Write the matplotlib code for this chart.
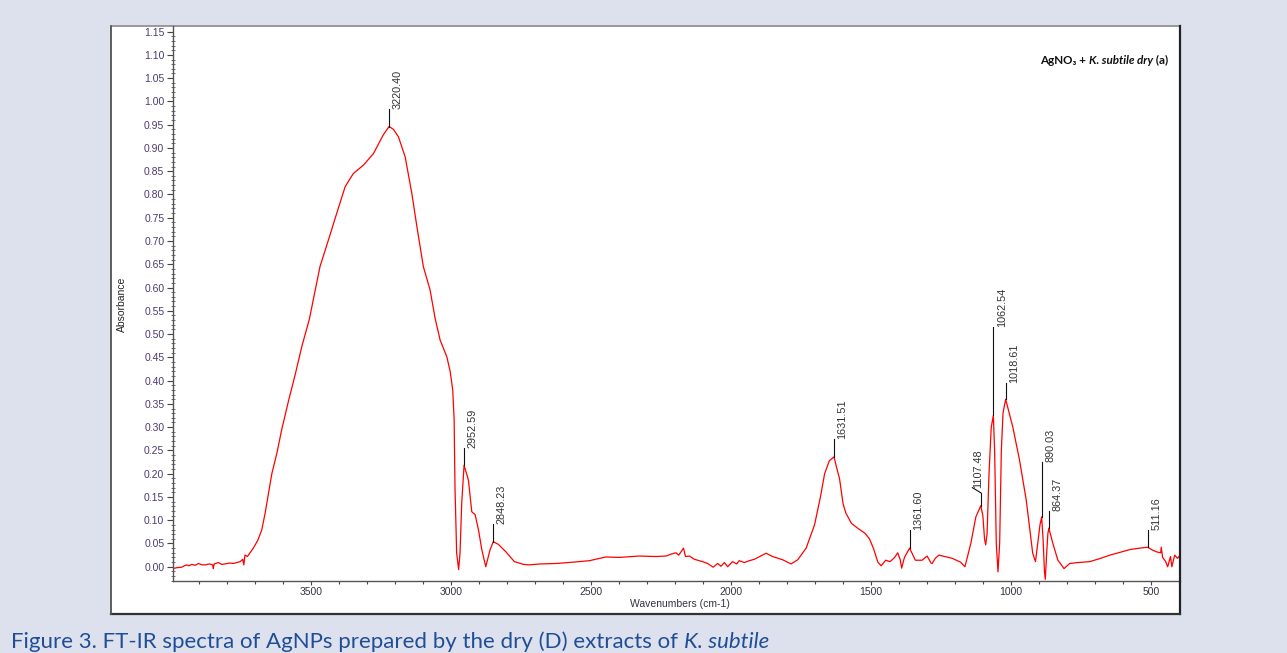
import numpy as np
import matplotlib
matplotlib.use("Agg")
import matplotlib.pyplot as plt
from matplotlib.patches import Rectangle
from matplotlib.lines import Line2D
from matplotlib.offsetbox import TextArea, HPacker, AnchoredOffsetbox

# ---------------- data ----------------
wavenumber = [
    3993, 3978, 3961, 3952, 3943, 3935, 3925, 3913, 3901, 3889, 3877, 3862, 3850, 3848,
    3845, 3830, 3818, 3806, 3790, 3776, 3764, 3752, 3743, 3739, 3735, 3726, 3717, 3705,
    3689, 3675, 3663, 3651, 3639,
    3621, 3604, 3580, 3556, 3532, 3505, 3467, 3437, 3407, 3377, 3348, 3312, 3276, 3241,
    3220.4, 3205, 3187, 3163, 3139, 3121, 3098, 3074, 3056, 3038, 3014, 3002, 2993, 2988,
    2985, 2979, 2972, 2967, 2961, 2955, 2952.59, 2946, 2937, 2925, 2913, 2901, 2889, 2875,
    2860, 2848.23, 2830, 2803, 2773, 2740, 2720, 2680, 2624, 2560, 2505, 2446, 2400, 2327,
    2267, 2231, 2214, 2196, 2186, 2178, 2169, 2162, 2148, 2130, 2101, 2083, 2063, 2047,
    2035, 2023, 2011, 1994, 1979, 1970, 1952, 1934, 1916, 1874, 1851, 1815, 1785, 1761,
    1731, 1701,
    1680, 1665, 1648, 1631.51, 1623, 1612, 1599, 1589, 1569, 1545, 1521, 1505, 1491, 1475,
    1463, 1447, 1431, 1415, 1404, 1395, 1390, 1380, 1361.6, 1341, 1317, 1299, 1285, 1281,
    1270, 1257, 1209, 1180, 1164, 1143, 1125, 1107.48, 1100, 1094, 1090, 1085, 1078, 1070,
    1062.54, 1058, 1052, 1046, 1040, 1034, 1028, 1018.61, 1010, 993, 969, 945, 922, 912,
    904, 896, 890.03, 885, 880, 877, 872, 868, 864.37, 850, 832, 810, 790, 760, 718, 680,
    646, 610, 574, 540, 511.16, 495, 480, 465, 463, 458, 448, 440, 430, 425, 415, 405, 397,
]
absorbance = [
    -0.004, -0.002, -0.001, 0.002, 0.004, 0.002, 0.005, 0.003, 0.007, 0.004, 0.004, 0.006, 0.004, -0.004,
    0.006, 0.009, 0.005, 0.006, 0.008, 0.007, 0.009, 0.011, 0.016, 0.004, 0.025, 0.022, 0.030, 0.040,
    0.057, 0.079, 0.115, 0.158, 0.200,
    0.244, 0.294, 0.355, 0.412, 0.473, 0.532, 0.645, 0.702, 0.760, 0.817, 0.845, 0.863, 0.888, 0.928,
    0.946, 0.940, 0.924, 0.881, 0.802, 0.731, 0.645, 0.595, 0.534, 0.487, 0.451, 0.419, 0.380, 0.315,
    0.172, 0.029, -0.006, 0.029, 0.136, 0.193, 0.218, 0.205, 0.186, 0.118, 0.112, 0.079, 0.036, 0.000,
    0.036, 0.054, 0.048, 0.032, 0.011, 0.005, 0.004, 0.006, 0.007, 0.010, 0.013, 0.021, 0.020, 0.023,
    0.022, 0.023, 0.027, 0.030, 0.025, 0.032, 0.040, 0.022, 0.023, 0.016, 0.011, 0.007, -0.001, 0.007,
    0.001, 0.009, 0.000, 0.011, 0.006, 0.013, 0.009, 0.013, 0.016, 0.029, 0.022, 0.015, 0.006, 0.015,
    0.040, 0.090,
    0.150, 0.200, 0.228, 0.236, 0.215, 0.190, 0.135, 0.115, 0.093, 0.082, 0.072, 0.060, 0.040, 0.010,
    0.002, 0.014, 0.011, 0.020, 0.030, 0.015, -0.003, 0.020, 0.040, 0.014, 0.014, 0.023, 0.008, 0.007,
    0.018, 0.025, 0.018, 0.010, 0.000, 0.050, 0.107, 0.131, 0.110, 0.060, 0.047, 0.070, 0.200, 0.300,
    0.325, 0.250, 0.050, -0.011, 0.050, 0.250, 0.330, 0.360, 0.340, 0.300, 0.229, 0.143, 0.029, 0.011,
    0.050, 0.090, 0.107, 0.060, -0.010, -0.027, 0.030, 0.070, 0.083, 0.050, 0.014, -0.004, 0.007, 0.009, 0.011, 0.018,
    0.025, 0.031, 0.037, 0.040, 0.042, 0.036, 0.032, 0.030, 0.042, 0.020, 0.012, 0.000, 0.022, 0.000, 0.025, 0.018, 0.024,
]

peak_positions = [3220.40, 2952.59, 2848.23, 1631.51, 1361.60, 1107.48, 1062.54, 1018.61, 890.03, 864.37, 511.16]
peak_labels = ["3220.40", "2952.59", "2848.23", "1631.51", "1361.60", "1107.48",
               "1062.54", "1018.61", "890.03", "864.37", "511.16"]
label_tops = [0.983, 0.255, 0.092, 0.274, 0.079, 0.159, 0.516, 0.395, 0.226, 0.120, 0.079]

y_ticks = [round(0.05 * i, 2) for i in range(24)]
x_ticks = [3500, 3000, 2500, 2000, 1500, 1000, 500]

# ---------------- figure ----------------
W, H = 1287, 653
fig = plt.figure(figsize=(W / 100, H / 100), dpi=100)
fig.patch.set_facecolor("#dde1ee")

def fx(px):
    return px / W

def fy(py):
    return 1 - py / H

# white panel
panel = Rectangle((fx(111), fy(614)), fx(1180) - fx(111), fy(26) - fy(614),
                  transform=fig.transFigure, facecolor="white", edgecolor="#8a8a8a",
                  lw=1.2, zorder=0)
fig.add_artist(panel)
fig.add_artist(Line2D([fx(1180), fx(1180)], [fy(614), fy(26)], transform=fig.transFigure,
                      color="#222222", lw=1.6))
fig.add_artist(Line2D([fx(111), fx(1180)], [fy(614), fy(614)], transform=fig.transFigure,
                      color="#333333", lw=1.6))
fig.add_artist(Line2D([fx(111), fx(111)], [fy(614), fy(26)], transform=fig.transFigure,
                      color="#555555", lw=1.2))

ax = fig.add_axes([fx(172.7), fy(580.7), fx(1180) - fx(172.7), fy(26) - fy(580.7)])
ax.set_facecolor("none")
ax.set_xlim(3993, 396)
ax.set_ylim(-0.03, 1.162)

ax.plot(wavenumber, absorbance, color="#ff0000", lw=0.9)

tick_font = {"family": "Liberation Sans", "size": 7.5}
ax.set_yticks(y_ticks)
ax.set_yticklabels([f"{v:.2f}" for v in y_ticks], fontdict=tick_font, color="#4b3b6e")
ax.set_xticks(x_ticks)
ax.set_xticklabels([str(v) for v in x_ticks], fontdict=tick_font, color="#333344")
ax.set_yticks(np.arange(-0.03, 1.16, 0.01), minor=True)
ax.set_xticks(np.arange(3900, 395, -100), minor=True)
ax.tick_params(axis="y", which="major", direction="out", length=4, width=0.8, color="#444444", pad=2)
ax.tick_params(axis="y", which="minor", direction="inout", length=3, width=0.6, color="#555555")
ax.tick_params(axis="x", which="major", direction="out", length=3, width=0.8, color="#444444", pad=1.5)
ax.tick_params(axis="x", which="minor", direction="out", length=2.5, width=0.8, color="#444444")
for s in ("top", "right"):
    ax.spines[s].set_visible(False)
for s in ("left", "bottom"):
    ax.spines[s].set_color("#555555")
    ax.spines[s].set_linewidth(1.0)

fig.text(fx(121.7), fy(304), "Absorbance", rotation=90, ha="center", va="center",
         family="Liberation Sans", fontsize=7.5, color="#222222")
fig.text(fx(680), fy(604), "Wavenumbers (cm-1)", ha="center", va="center",
         family="Liberation Sans", fontsize=7.5, color="#333344")

# peak annotations
wn_asc = np.array(wavenumber[::-1])
ab_asc = np.array(absorbance[::-1])
for pos, lab, top in zip(peak_positions, peak_labels, label_tops):
    peak_h = float(np.interp(pos, wn_asc, ab_asc))
    ax.plot([pos, pos], [peak_h, top], color="#111111", lw=0.8)
    if lab == "1107.48":
        end_x, end_y = pos + 30, top + 0.011
        ax.plot([pos, end_x], [top, end_y], color="#111111", lw=0.8)
        ax.annotate(lab, xy=(end_x, end_y), xytext=(0.5, 0), textcoords="offset points",
                    rotation=90, ha="left", va="bottom", family="Liberation Sans",
                    fontsize=7.8, color="#333333")
    else:
        ax.annotate(lab, xy=(pos, top), xytext=(2.5, 0), textcoords="offset points",
                    rotation=90, ha="left", va="bottom", family="Liberation Sans",
                    fontsize=7.8, color="#333333")

# sample title (top right)
ff = ["Lato", "DejaVu Sans"]
tsize = 8.4
t1 = TextArea("AgNO\u2083 + ", textprops=dict(family=ff, weight="bold", size=tsize, color="#111111"))
t2 = TextArea("K. subtile dry", textprops=dict(family=ff, weight="bold", style="italic", size=tsize, color="#111111"))
t3 = TextArea(" (a)", textprops=dict(family=ff, weight="bold", size=tsize, color="#111111"))
box = HPacker(children=[t1, t2, t3], align="baseline", pad=0, sep=0)
anch = AnchoredOffsetbox(loc="center right", child=box, pad=0, frameon=False,
                         bbox_to_anchor=(fx(1168), fy(60)), bbox_transform=fig.transFigure,
                         borderpad=0)
fig.add_artist(anch)

# caption
csize = 16
fig.text(fx(11), fy(647.5), "Figure 3. FT-IR spectra of AgNPs prepared by the dry (D) extracts of ",
         ha="left", va="baseline", family="Lato", fontsize=csize, color="#1f4e96")

fig.canvas.draw()
cap = fig.texts[-1]
bb = cap.get_window_extent()
fig.text(bb.x1 / W, fy(647.5), "K. subtile", ha="left", va="baseline", family="Lato",
         style="italic", fontsize=csize, color="#1f4e96")

fig.savefig("out.png", dpi=100, facecolor=fig.get_facecolor())
